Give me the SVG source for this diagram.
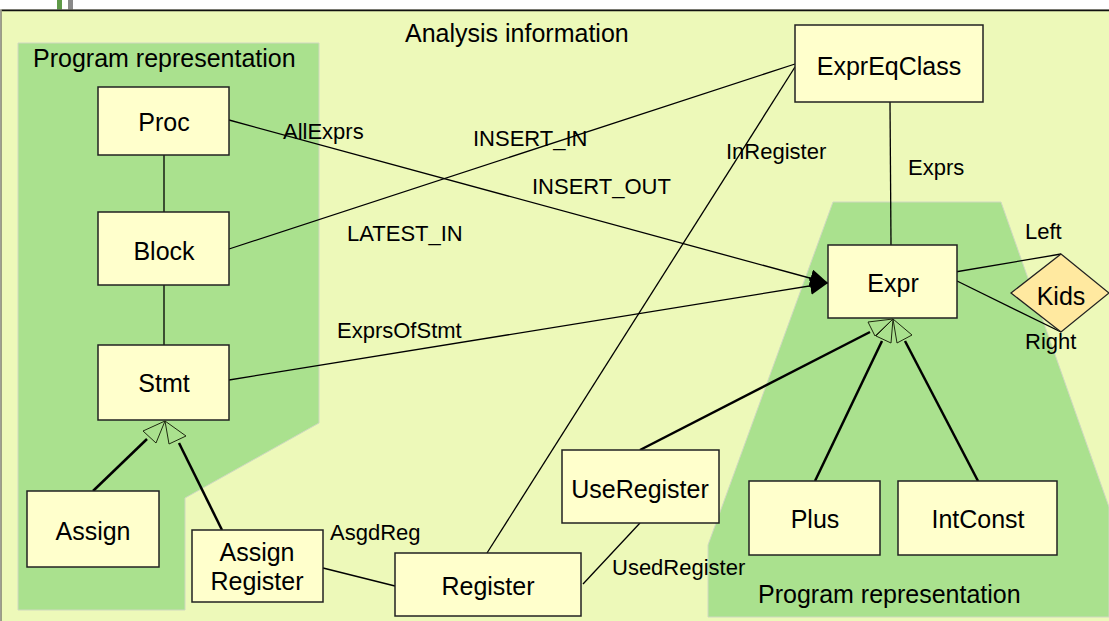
<svg xmlns="http://www.w3.org/2000/svg" width="1109" height="621" viewBox="0 0 1109 621">
  <style>
    .node rect { fill: #FFFFCC; stroke: #222; stroke-width: 1.5; }
    .node text, .title { font-family: "Liberation Sans", Arial, sans-serif; font-size: 25px; fill: #000; }
    .node text { text-anchor: middle; }
    .lbl { font-family: "Liberation Sans", Arial, sans-serif; font-size: 22px; fill: #000; }
    .assoc { stroke: #000; stroke-width: 1.3; fill: none; }
    .gen { stroke: #000; stroke-width: 2.5; fill: none; }
    .tri { stroke: #1f2a10; stroke-width: 1; fill: none; }
    .panel { fill: #AAE18E; stroke: #cfd8c0; stroke-width: 1; }
  </style>
  <defs>
    <marker id="arrow" viewBox="0 0 10 10" refX="10" refY="5" markerWidth="18" markerHeight="18" markerUnits="userSpaceOnUse" orient="auto">
      <path d="M0,0 L10,5 L0,10 z" fill="#000"/>
    </marker>
  </defs>

  <!-- page background -->
  <rect x="0" y="0" width="1109" height="621" fill="#ffffff"/>
  <rect x="57" y="0" width="5" height="10" fill="#5f9a48"/>
  <rect x="68" y="0" width="5" height="10" fill="#8a8a8a"/>
  <rect x="1" y="10" width="1110" height="615" fill="#EDF9B9" stroke="#7f7f70" stroke-width="1.5"/>
  <line x1="2" y1="10.5" x2="1109" y2="10.5" stroke="#111" stroke-width="1.5"/>

  <!-- region panels -->
  <polygon class="panel" points="18,43 319,43 319,423 185,498 185,610 18,610"/>
  <polygon class="panel" stroke="none" points="833,202 1001,202 1109,507 1109,617 708,617 708,545"/>

  <text class="title" x="405" y="42">Analysis information</text>
  <text class="title" x="33" y="67">Program representation</text>
  <text class="title" x="758" y="603">Program representation</text>

  <!-- connectors -->
  <g id="connectors">
    <line class="assoc" x1="164" y1="155" x2="164" y2="212"/>
    <line class="assoc" x1="164" y1="285" x2="164" y2="345"/>
    <line class="assoc" x1="229" y1="120" x2="828" y2="283" marker-end="url(#arrow)"/>
    <line class="assoc" x1="229" y1="249" x2="795" y2="64"/>
    <line class="assoc" x1="229" y1="380" x2="828" y2="283" marker-end="url(#arrow)"/>
    <line class="assoc" x1="487" y1="553" x2="795" y2="67"/>
    <line class="assoc" x1="890" y1="102" x2="891" y2="245"/>
    <line class="assoc" x1="955" y1="272" x2="1061" y2="254"/>
    <line class="assoc" x1="955" y1="280" x2="1061" y2="332"/>
    <line class="assoc" x1="323" y1="568" x2="395" y2="586"/>
    <line class="assoc" x1="640" y1="523" x2="583" y2="584"/>

    <!-- generalizations to Stmt -->
    <line class="gen" x1="93" y1="491" x2="147" y2="439"/>
    <line class="gen" x1="222" y1="530" x2="179" y2="443"/>
    <polygon class="tri" points="165,421 143,431 156,443"/>
    <polygon class="tri" points="165,421 169,444 186,436"/>

    <!-- generalizations to Expr -->
    <line class="gen" x1="640" y1="450" x2="870" y2="332"/>
    <line class="gen" x1="815" y1="481" x2="882" y2="341"/>
    <line class="gen" x1="978" y1="481" x2="905" y2="341"/>
    <polygon class="tri" points="893,319 868,322 875,336"/>
    <polygon class="tri" points="893,319 876,336 891,343"/>
    <polygon class="tri" points="893,319 897,343 912,335"/>

    <text class="lbl" x="283" y="139">AllExprs</text>
    <text class="lbl" x="473" y="146">INSERT_IN</text>
    <text class="lbl" x="726" y="159">InRegister</text>
    <text class="lbl" x="532" y="194">INSERT_OUT</text>
    <text class="lbl" x="347" y="241">LATEST_IN</text>
    <text class="lbl" x="908" y="175">Exprs</text>
    <text class="lbl" x="1025" y="239">Left</text>
    <text class="lbl" x="1025" y="349">Right</text>
    <text class="lbl" x="337" y="338">ExprsOfStmt</text>
    <text class="lbl" x="330" y="540">AsgdReg</text>
    <text class="lbl" x="612" y="575">UsedRegister</text>
  </g>

  <!-- nodes -->
  <g id="proc" class="node"><rect x="98" y="87" width="131" height="68"/><text x="164" y="131">Proc</text></g>
  <g id="block" class="node"><rect x="98" y="212" width="131" height="73"/><text x="164" y="260">Block</text></g>
  <g id="stmt" class="node"><rect x="98" y="345" width="131" height="75"/><text x="164" y="392">Stmt</text></g>
  <g id="assign" class="node"><rect x="27" y="491" width="132" height="76"/><text x="93" y="540">Assign</text></g>
  <g id="assign-register" class="node"><rect x="192" y="530" width="131" height="72"/><text x="257" y="561">Assign</text><text x="257" y="590">Register</text></g>
  <g id="register" class="node"><rect x="395" y="553" width="186" height="63"/><text x="488" y="595">Register</text></g>
  <g id="use-register" class="node"><rect x="562" y="450" width="157" height="73"/><text x="640" y="498">UseRegister</text></g>
  <g id="plus" class="node"><rect x="749" y="481" width="131" height="74"/><text x="815" y="528">Plus</text></g>
  <g id="int-const" class="node"><rect x="898" y="481" width="159" height="74"/><text x="978" y="528">IntConst</text></g>
  <g id="expr" class="node"><rect x="828" y="245" width="129" height="73"/><text x="893" y="292">Expr</text></g>
  <g id="expr-eq-class" class="node"><rect x="795" y="25" width="188" height="77"/><text x="889" y="75">ExprEqClass</text></g>
  <g id="kids" class="node">
    <polygon points="1011,293 1061,254 1109,293 1061,332" fill="#FFE9A0" stroke="#222" stroke-width="1.3"/>
    <text x="1061" y="305">Kids</text>
  </g>
</svg>
